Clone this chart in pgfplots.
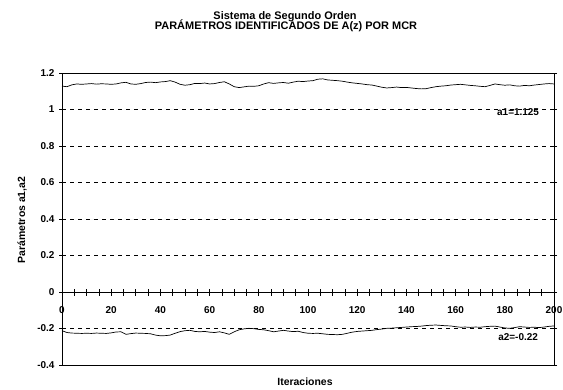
\documentclass[border=0pt]{standalone}
\usepackage{pgfplots}
\pgfplotsset{compat=1.18}
\usepackage{fontspec}
\setmainfont{Liberation Sans}

\begin{document}
\begin{tikzpicture}[x=1bp,y=1bp]
\useasboundingbox (-62,-24) rectangle (501,365);
% main box axis with y ticks, grid and data
\begin{axis}[
  width=492bp, height=292bp, scale only axis,
  at={(0,0)}, anchor=south west,
  xmin=0, xmax=200, ymin=-0.4, ymax=1.2,
  xtick=\empty,
  ytick={-0.4,-0.2,0,0.2,0.4,0.6,0.8,1,1.2},
  yticklabels={-0.4,-0.2,0,0.2,0.4,0.6,0.8,1,1.2},
  extra y ticks={-0.2,0.2,0.4,0.6,0.8,1},
  extra y tick labels={},
  extra y tick style={grid=major, major grid style={black, line width=0.6bp, dash pattern=on 4bp off 4bp}, tick style={draw=none}},
  ytick style={black, line width=0.6bp},
  tick align=outside, major tick length=3bp,
  yticklabel style={font=\fontsize{10}{12}\selectfont\bfseries, xshift=-1bp},
  axis line style={black, line width=0.8bp},
  clip=false,
]
\addplot[black, line width=0.7bp] coordinates {
(0,1.128) (2,1.125) (4,1.135) (6,1.14) (8,1.138) (10,1.14) (12,1.142) (14,1.139) (16,1.141) (18,1.14)
(20,1.138) (22,1.14) (24,1.146) (26,1.149) (28,1.14) (30,1.138) (32,1.142) (34,1.148) (36,1.15) (38,1.147)
(40,1.151) (42,1.153) (44,1.158) (46,1.15) (48,1.138) (50,1.133) (52,1.136) (54,1.143) (56,1.142) (58,1.145)
(60,1.14) (62,1.142) (64,1.148) (66,1.152) (68,1.14) (70,1.125) (72,1.12) (74,1.124) (76,1.128) (78,1.127)
(80,1.13) (82,1.14) (84,1.147) (86,1.143) (88,1.146) (90,1.148) (92,1.144) (94,1.15) (96,1.155) (98,1.153)
(100,1.156) (102,1.158) (104,1.166) (106,1.168) (108,1.162) (110,1.16) (112,1.158) (114,1.155) (116,1.15) (118,1.146)
(120,1.143) (122,1.14) (124,1.136) (126,1.134) (128,1.128) (130,1.122) (132,1.118) (134,1.12) (136,1.123) (138,1.12)
(140,1.121) (142,1.118) (144,1.115) (146,1.113) (148,1.114) (150,1.12) (152,1.125) (154,1.128) (156,1.13) (158,1.134)
(160,1.136) (162,1.138) (164,1.135) (166,1.132) (168,1.13) (170,1.127) (172,1.125) (174,1.132) (176,1.14) (178,1.136)
(180,1.133) (182,1.135) (184,1.13) (186,1.128) (188,1.132) (190,1.13) (192,1.134) (194,1.137) (196,1.14) (198,1.142) (200,1.14)
};
\addplot[black, line width=0.7bp] coordinates {
(0,-0.212) (2,-0.222) (4,-0.225) (6,-0.226) (8,-0.227) (10,-0.226) (12,-0.227) (14,-0.225) (16,-0.226) (18,-0.227)
(20,-0.224) (22,-0.219) (24,-0.218) (26,-0.232) (28,-0.228) (30,-0.225) (32,-0.226) (34,-0.227) (36,-0.229) (38,-0.236)
(40,-0.24) (42,-0.239) (44,-0.236) (46,-0.226) (48,-0.217) (50,-0.212) (52,-0.21) (54,-0.216) (56,-0.218) (58,-0.216)
(60,-0.22) (62,-0.222) (64,-0.218) (66,-0.224) (68,-0.232) (70,-0.218) (72,-0.207) (74,-0.202) (76,-0.199) (78,-0.201)
(80,-0.205) (82,-0.207) (84,-0.212) (86,-0.218) (88,-0.214) (90,-0.21) (92,-0.214) (94,-0.217) (96,-0.215) (98,-0.222)
(100,-0.226) (102,-0.227) (104,-0.226) (106,-0.229) (108,-0.232) (110,-0.233) (112,-0.234) (114,-0.232) (116,-0.226) (118,-0.22)
(120,-0.216) (122,-0.214) (124,-0.212) (126,-0.21) (128,-0.206) (130,-0.203) (132,-0.199) (134,-0.198) (136,-0.196) (138,-0.194)
(140,-0.192) (142,-0.19) (144,-0.189) (146,-0.187) (148,-0.184) (150,-0.182) (152,-0.181) (154,-0.183) (156,-0.185) (158,-0.186)
(160,-0.19) (162,-0.193) (164,-0.192) (166,-0.194) (168,-0.192) (170,-0.193) (172,-0.19) (174,-0.188) (176,-0.187) (178,-0.192)
(180,-0.197) (182,-0.199) (184,-0.195) (186,-0.19) (188,-0.192) (190,-0.194) (192,-0.193) (194,-0.195) (196,-0.192) (198,-0.188) (200,-0.186)
};
\node[font=\fontsize{10}{12}\selectfont\bfseries] at (axis cs:185.4,0.986) {a1=1.125};
\node[font=\fontsize{10}{12}\selectfont\bfseries] at (axis cs:185.4,-0.247) {a2=-0.22};
\end{axis}
% x axis at y=0
\begin{axis}[
  width=492bp, height=292bp, scale only axis,
  at={(0,0)}, anchor=south west,
  xmin=0, xmax=200, ymin=-0.4, ymax=1.2,
  axis y line=none, axis x line=middle,
  x axis line style={-, black, line width=0.9bp},
  xtick={0,20,...,200},
  minor xtick={0,5,...,200},
  xticklabels={0,20,40,60,80,100,120,140,160,180,200},
  tick align=center, major tick length=7bp, minor tick length=7bp,
  xtick style={black, line width=0.8bp},
  minor tick style={black, line width=0.8bp},
  xticklabel style={font=\fontsize{10}{12}\selectfont\bfseries, yshift=-8bp},
  /pgf/number format/assume math mode=true,
  clip=false,
]
\end{axis}
\node[font=\fontsize{11}{12}\selectfont\bfseries] at (223,348.5) {Sistema de Segundo Orden};
\node[font=\fontsize{11}{12}\selectfont\bfseries] at (224,339) {PARÁMETROS IDENTIFICADOS DE A(z) POR MCR};
\node[font=\fontsize{10.5}{12}\selectfont\bfseries, rotate=90] at (-40,145) {Parámetros a1,a2};
\node[font=\fontsize{10.5}{12}\selectfont\bfseries] at (243,-17) {Iteraciones};
\end{tikzpicture}
\end{document}
